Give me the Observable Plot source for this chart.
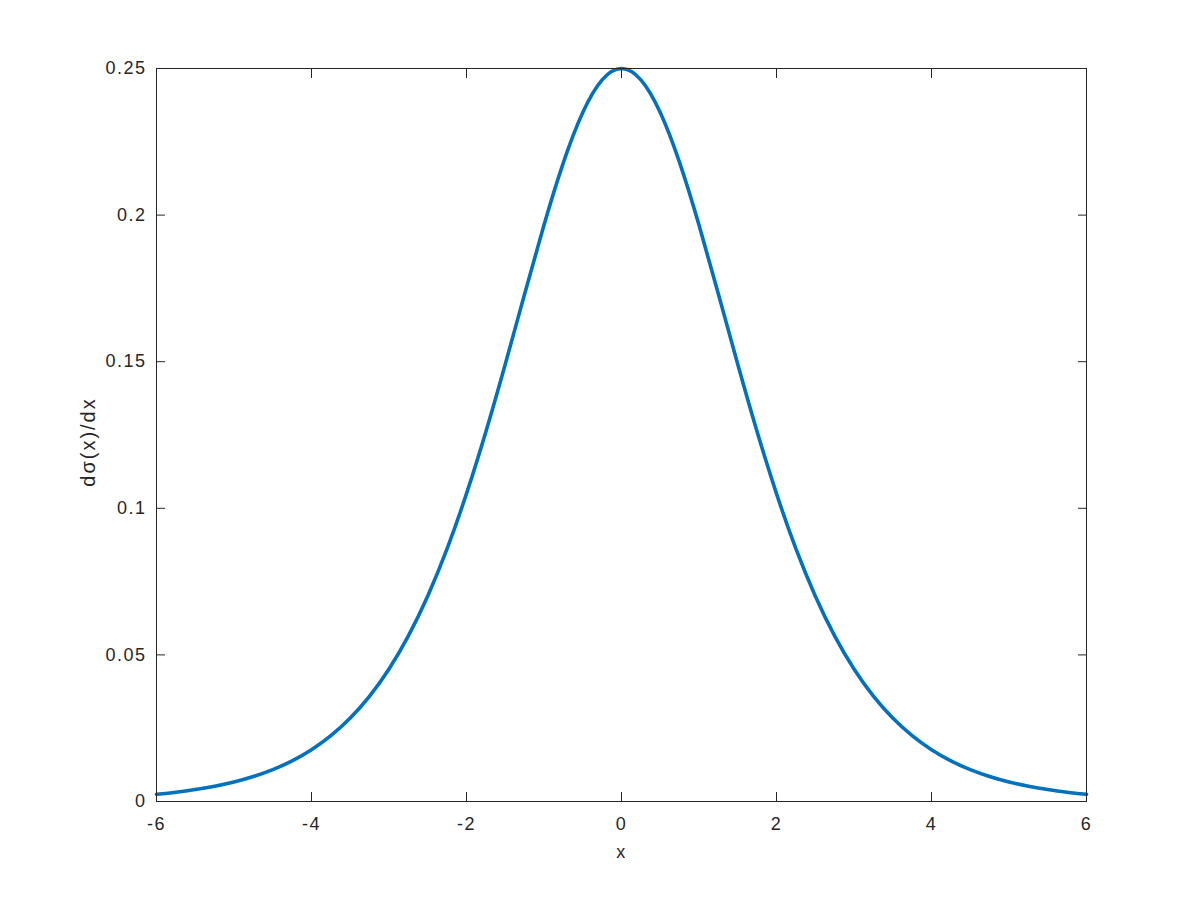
<!DOCTYPE html>
<html>
<head>
<meta charset="utf-8">
<script src="https://cdn.jsdelivr.net/npm/d3@7"></script>
<script src="https://cdn.jsdelivr.net/npm/@observablehq/plot@0.6"></script>
<style>
  html, body { margin: 0; padding: 0; background: #fff; }
  #chart { width: 1200px; height: 898px; }
  svg { display: block; }
  svg text { letter-spacing: 1.5px; }
  svg g[aria-label="y-axis label"] text { letter-spacing: 2px; font-size: 20px; }
</style>
</head>
<body>
<div id="chart"></div>
<script>
const xs = [-6,-5.75,-5.5,-5.25,-5,-4.75,-4.5,-4.25,-4,-3.75,-3.5,-3.25,-3,-2.75,-2.5,-2.25,-2,-1.75,-1.5,-1.25,-1,-0.75,-0.5,-0.25,0,
  0.25,0.5,0.75,1,1.25,1.5,1.75,2,2.25,2.5,2.75,3,3.25,3.5,3.75,4,4.25,4.5,4.75,5,5.25,5.5,5.75,6];
const ys = [0.00247,0.00317,0.00407,0.00522,0.00665,0.00851,0.01087,0.01386,0.01766,0.02245,0.02845,0.03592,0.04518,0.05649,0.07010,0.08622,0.10499,0.12610,0.14914,0.17310,0.19661,0.21789,0.23500,0.24613,0.25,
  0.24613,0.23500,0.21789,0.19661,0.17310,0.14914,0.12610,0.10499,0.08622,0.07010,0.05649,0.04518,0.03592,0.02845,0.02245,0.01766,0.01386,0.01087,0.00851,0.00665,0.00522,0.00407,0.00317,0.00247];
const xTicks = [-6,-4,-2,0,2,4,6];
const yTicks = [0,0.05,0.1,0.15,0.2,0.25];
const xTickLabels = ["-6","-4","-2","0","2","4","6"];
const yTickLabels = ["0","0.05","0.1","0.15","0.2","0.25"];
const xLabel = "x";
const yLabel = "dσ(x)/dx";

const data = xs.map((x, i) => ({x, y: ys[i]}));
const axisColor = "#262626";
const fs = 18;

const plot = Plot.plot({
  width: 1200,
  height: 898,
  marginLeft: 156,
  marginRight: 114,
  marginTop: 68,
  marginBottom: 97,
  style: {fontFamily: "'Liberation Sans', Arial, sans-serif", fontSize: fs + "px", color: axisColor, background: "#fff"},
  x: {domain: [-6, 6]},
  y: {domain: [0, 0.25]},
  marks: [
    Plot.line(data, {x: "x", y: "y", stroke: "#0072BD", strokeWidth: 3.6, curve: "natural"}),
    Plot.frame({stroke: axisColor, strokeWidth: 1}),
    Plot.axisX({anchor: "bottom", ticks: xTicks, tickFormat: (d) => xTickLabels[xTicks.indexOf(d)], tickSize: -9, tickPadding: 25, stroke: axisColor, fill: axisColor,
      label: xLabel, labelAnchor: "center", labelArrow: "none", labelOffset: 56, fontSize: fs}),
    Plot.axisX({anchor: "top", ticks: xTicks, tickFormat: () => "", tickSize: -9, stroke: axisColor, label: null}),
    Plot.axisY({anchor: "left", ticks: yTicks, tickFormat: (d) => yTickLabels[yTicks.findIndex(t => Math.abs(t - d) < 1e-9)], tickSize: -9, tickPadding: 19, stroke: axisColor, fill: axisColor,
      label: yLabel, labelAnchor: "center", labelArrow: "none", labelOffset: 76, fontSize: fs}),
    Plot.axisY({anchor: "right", ticks: yTicks, tickFormat: () => "", tickSize: -9, stroke: axisColor, label: null})
  ]
});
document.getElementById("chart").appendChild(plot);
// nudge the y label down slightly to match the reference centring
const yl = plot.querySelector('g[aria-label="y-axis label"]');
if (yl) {
  const t = yl.getAttribute("transform") || "";
  yl.setAttribute("transform", (t + " translate(0,7)").trim());
}
</script>
</body>
</html>
